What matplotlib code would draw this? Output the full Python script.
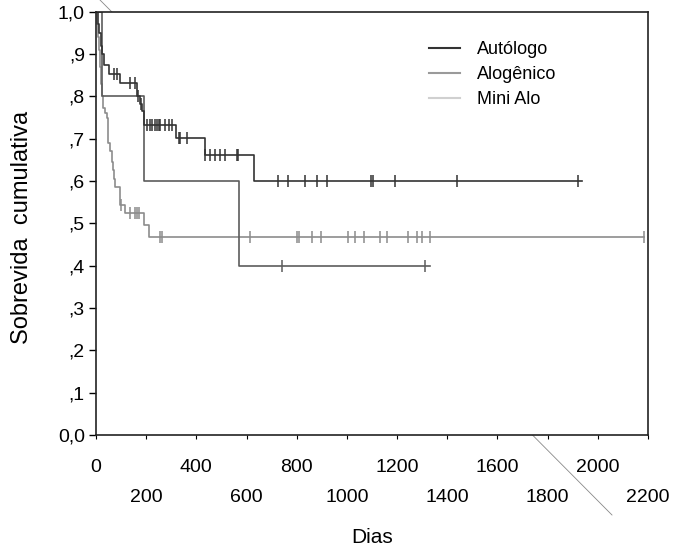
import numpy as np
import matplotlib
matplotlib.use("Agg")
import matplotlib.pyplot as plt
from matplotlib.lines import Line2D

plt.rcParams["font.family"] = ["Liberation Sans", "DejaVu Sans"]

# Kaplan-Meier curves (days, cumulative survival after each event)
auto_t = [0, 6, 12, 18, 24, 30, 50, 97, 164, 176, 184, 190, 320, 433, 628]
auto_s = [1.0, 0.97, 0.95, 0.92, 0.90, 0.875, 0.853, 0.831, 0.80, 0.783, 0.765, 0.733, 0.701, 0.662, 0.60]
auto_end = 1939
auto_cens = [71, 84, 137, 157, 168, 180, 204, 217, 224, 237, 243, 250, 256, 276, 290, 303,
             329, 336, 363, 436, 455, 476, 495, 515, 562, 567, 725, 767, 831, 882, 920,
             1095, 1105, 1191, 1439, 1920]

alo_t = [0, 2, 4, 6, 8, 10, 12, 14, 16, 18, 20, 23, 29, 36, 43, 46, 49, 56, 62, 66, 70, 76,
         95, 117, 190, 210]
alo_s = [1.0, 0.98, 0.97, 0.96, 0.94, 0.92, 0.91, 0.89, 0.87, 0.855, 0.83, 0.80, 0.772, 0.76,
         0.749, 0.72, 0.69, 0.67, 0.646, 0.625, 0.605, 0.587, 0.544, 0.524, 0.496, 0.467]
alo_end = 2186
alo_cens = [100, 137, 157, 164, 170, 256, 263, 612, 800, 811, 860, 896, 1003, 1032, 1069,
            1132, 1161, 1244, 1278, 1301, 1331, 2186]

mini_t = [0, 25, 190, 568]
mini_s = [1.0, 0.8, 0.6, 0.4]
mini_end = 1331
mini_cens = [741, 1313]

groups = ["Autólogo", "Alogênico", "Mini Alo"]
legend_colors = ["#333333", "#9a9a9a", "#d0d0d0"]

xticks_major = [0, 400, 800, 1200, 1600, 2000]
xticks_minor = [200, 600, 1000, 1400, 1800, 2200]
yticks = [0.0, 0.1, 0.2, 0.3, 0.4, 0.5, 0.6, 0.7, 0.8, 0.9, 1.0]
ytick_labels = ["0,0", ",1", ",2", ",3", ",4", ",5", ",6", ",7", ",8", ",9", "1,0"]


def surv_at(t, s, x):
    idx = np.searchsorted(t, x, side="right") - 1
    return np.array(s)[idx]


fig = plt.figure(figsize=(6.79, 5.45), dpi=100)
ax = fig.add_axes([0.1414, 0.2018, 0.8129, 0.7767])
ax.set_facecolor("white")

# thin scan artefact line behind the plot area
fig.add_artist(Line2D([100 / 679, 612 / 679], [1.0, 1 - 515 / 545],
                      transform=fig.transFigure, color="#888888", lw=0.6, zorder=-1))

curves = [
    (alo_t, alo_s, alo_end, alo_cens, "#8c8c8c"),
    (mini_t, mini_s, mini_end, mini_cens, "#5c5c5c"),
    (auto_t, auto_s, auto_end, auto_cens, "#333333"),
]
for t, s, end, cens, col in curves:
    ax.step(list(t) + [end], list(s) + [s[-1]], where="post", color=col, lw=1.2)
    ax.plot(cens, surv_at(t, s, cens), linestyle="none", marker="|", ms=8, mew=1.1, color=col)

ax.set_xlim(0, 2200)
ax.set_ylim(0, 1.0)
ax.set_xticks(xticks_major)
ax.set_xticklabels([str(v) for v in xticks_major])
ax.set_xticks(xticks_minor, minor=True)
ax.set_xticklabels([str(v) for v in xticks_minor], minor=True)
ax.tick_params(axis="x", which="major", length=3, width=0.8, labelsize=14, pad=14)
ax.tick_params(axis="x", which="minor", length=3, width=0.8, labelsize=14, pad=36)
ax.set_yticks(yticks)
ax.set_yticklabels(ytick_labels)
ax.tick_params(axis="y", length=5, width=1, labelsize=14, pad=3)

for sp in ax.spines.values():
    sp.set_linewidth(1.2)
    sp.set_color("#222222")

ax.set_xlabel("Dias", fontsize=15)
ax.xaxis.set_label_coords(0.5, -0.241)
ax.xaxis.label.set_va("center")
ax.set_ylabel("Sobrevida  cumulativa", fontsize=17)
ax.yaxis.set_label_coords(-0.134, 0.491)
ax.yaxis.label.set_va("center")

handles = [Line2D([], [], color=c, lw=1.5) for c in legend_colors]
ax.legend(handles, groups, loc="upper left", bbox_to_anchor=(420 / 679, 1 - 32 / 545),
          bbox_transform=fig.transFigure, frameon=False, fontsize=13,
          handlelength=1.7, handletextpad=0.95, labelspacing=0.45, borderpad=0)

fig.savefig("out.png", dpi=100)
